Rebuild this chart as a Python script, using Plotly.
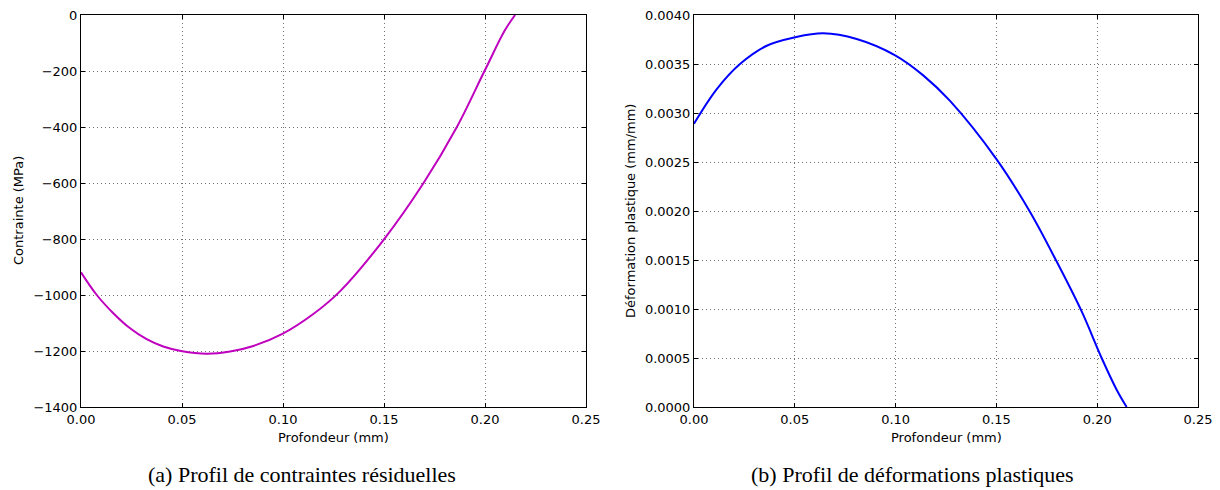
import plotly.graph_objects as go

# Left: residual stress profile
depth_a = [0.0, 0.0078, 0.016, 0.0243, 0.0325, 0.0407, 0.0495, 0.0622, 0.0738, 0.0853,
           0.0997, 0.115, 0.1282, 0.15, 0.1695, 0.186, 0.1997, 0.2099, 0.2149]
stress_a = [-919, -1000, -1065, -1119, -1158, -1184, -1200, -1210, -1202, -1182,
            -1139, -1068, -987, -801, -601, -401, -201, -54, 0]

# Right: plastic strain profile
depth_b = [0.0, 0.0113, 0.0228, 0.0361, 0.0501, 0.0641, 0.0807, 0.1, 0.1137, 0.127,
           0.1501, 0.1667, 0.1799, 0.1923, 0.2022, 0.2097, 0.2146]
strain_b = [0.00289, 0.003243, 0.003499, 0.003686, 0.003772, 0.003813, 0.003755, 0.003586,
            0.003384, 0.003123, 0.002527, 0.001990, 0.001484, 0.000975, 0.000500,
            0.000174, 0.0]

x_ticks = [0.0, 0.05, 0.10, 0.15, 0.20, 0.25]
x_tick_labels = ["0.00", "0.05", "0.10", "0.15", "0.20", "0.25"]
ya_ticks = [0, -200, -400, -600, -800, -1000, -1200, -1400]
yb_ticks = [0.0, 0.0005, 0.0010, 0.0015, 0.0020, 0.0025, 0.0030, 0.0035, 0.0040]

captions = ["(a) Profil de contraintes résiduelles", "(b) Profil de déformations plastiques"]
y_titles = ["Contrainte (MPa)", "Déformation plastique (mm/mm)"]
x_title = "Profondeur (mm)"

W, H = 1220, 490
font = "DejaVu Sans"

fig = go.Figure()
fig.add_trace(go.Scatter(x=depth_a, y=stress_a, mode="lines", line=dict(color="#bf00bf", width=2),
                         xaxis="x", yaxis="y", line_shape="spline", showlegend=False))
fig.add_trace(go.Scatter(x=depth_b, y=strain_b, mode="lines", line=dict(color="#0000ff", width=2),
                         xaxis="x2", yaxis="y2", line_shape="spline", showlegend=False))

xa_dom = [81 / W, 586 / W]
xb_dom = [694 / W, 1198 / W]
y_dom = [1 - 407 / H, 1 - 15 / H]

common = dict(showline=True, linecolor="black", linewidth=1, mirror="ticks",
              ticks="inside", ticklen=4, tickcolor="black", automargin=False,
              showgrid=True, gridcolor="#707070", griddash="1px,3px", gridwidth=1,
              zeroline=False, tickfont=dict(family=font, size=13, color="black"))

fig.update_layout(
    width=W, height=H, margin=dict(l=0, r=0, t=0, b=0),
    paper_bgcolor="white", plot_bgcolor="white",
    xaxis=dict(domain=xa_dom, range=[0, 0.25], anchor="y", tickvals=x_ticks,
               ticktext=x_tick_labels, **common),
    yaxis=dict(domain=y_dom, range=[-1400, 0], anchor="x", tickvals=ya_ticks, **common),
    xaxis2=dict(domain=xb_dom, range=[0, 0.25], anchor="y2", tickvals=x_ticks,
                ticktext=x_tick_labels, **common),
    yaxis2=dict(domain=y_dom, range=[0, 0.004], anchor="x2", tickvals=yb_ticks,
                tickformat=".4f", **common),
)

ann = []
for cx in [(81 + 586) / 2, (694 + 1198) / 2]:
    ann.append(dict(x=cx / W, y=1 - 437 / H, xref="paper", yref="paper", text=x_title,
                    showarrow=False, font=dict(family=font, size=13, color="black"),
                    xanchor="center", yanchor="middle"))
ann.append(dict(x=18 / W, y=1 - 211 / H, xref="paper", yref="paper", text=y_titles[0],
                textangle=-90, showarrow=False, font=dict(family=font, size=13, color="black"),
                xanchor="center", yanchor="middle"))
ann.append(dict(x=630 / W, y=1 - 211 / H, xref="paper", yref="paper", text=y_titles[1],
                textangle=-90, showarrow=False, font=dict(family=font, size=13, color="black"),
                xanchor="center", yanchor="middle"))
for cx, t in zip([302, 912], captions):
    ann.append(dict(x=cx / W, y=1 - 474 / H, xref="paper", yref="paper", text=t,
                    showarrow=False, font=dict(family="Liberation Serif", size=22, color="black"),
                    xanchor="center", yanchor="middle"))
fig.update_layout(annotations=ann)

fig.write_html("out.html", config={"displayModeBar": False},
               post_script="document.body.style.margin='0';document.body.style.padding='0';")
